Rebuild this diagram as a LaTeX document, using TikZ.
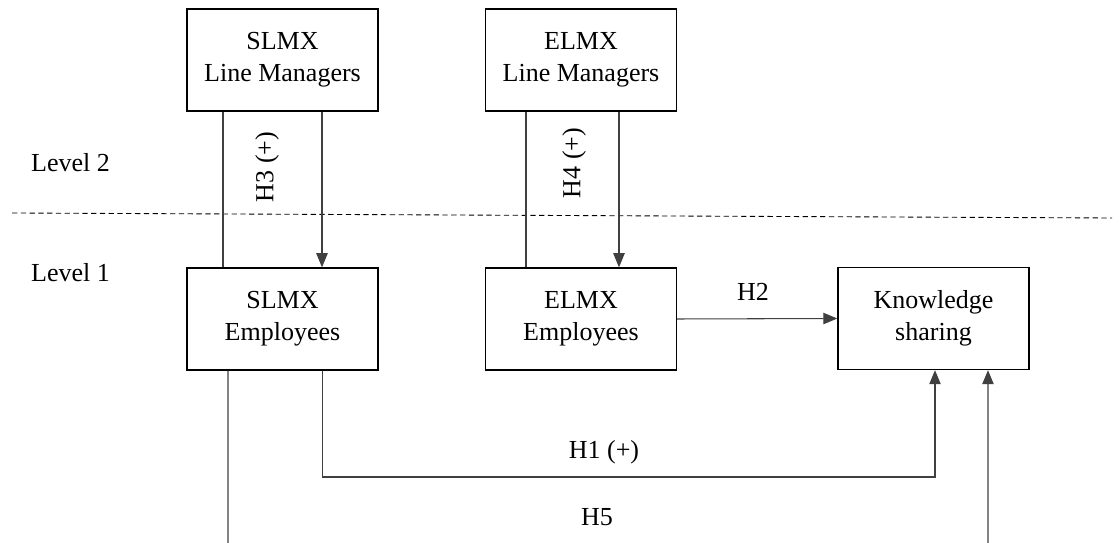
\documentclass[tikz,border=0pt]{standalone}
\usepackage{fontspec}
\setmainfont{Liberation Serif}
\usepackage{tikz}
\usetikzlibrary{calc,arrows.meta,positioning}

\begin{document}
\begin{tikzpicture}[x=0.02cm,y=-0.02cm,
    every node/.style={font=\fontsize{14.8pt}{18pt}\selectfont},
    box/.style={draw,line width=0.8pt,minimum width=3.82cm,minimum height=2.04cm,
        inner sep=0pt,align=center},
    link/.style={draw=black!75,line width=0.6pt},
    arr/.style={link,-{Triangle[length=8pt,width=6.5pt]}}]
\useasboundingbox (0,0) rectangle (1120,543);
    % boxes
    \node[box] (slm) at (282.5,60) {SLMX\\Line Managers};
    \node[box] (elm) at (581,60) {ELMX\\Line Managers};
    \node[box] (sle) at (282.5,319) {SLMX\\Employees};
    \node[box] (ele) at (581,319) {ELMX\\Employees};
    \node[box] (ks) at (933.5,318.5) {Knowledge\\sharing};
    % levels
    \node[anchor=west] (lv2) at (25,163) {Level 2};
    \node[anchor=west] (lv1) at (25,273) {Level 1};
    \coordinate (sepL) at (12,213);
    \coordinate (sepR) at (1112,218);
    \draw[line width=0.5pt,dash pattern=on 3pt off 2pt] (sepL) -- (sepR);
    % cross-level links
    \draw[link] ([xshift=-1.19cm]slm.south) -- ([xshift=-1.19cm]sle.north);
    \draw[arr] ([xshift=0.79cm]slm.south) -- ([xshift=0.79cm]sle.north);
    \draw[link] ([xshift=-1.1cm]elm.south) -- ([xshift=-1.1cm]ele.north);
    \draw[arr] ([xshift=0.76cm]elm.south) -- ([xshift=0.76cm]ele.north);
    \node[rotate=90] (h3) at (267,167) {H3 (+)};
    \node[rotate=90] (h4) at (574,163) {H4 (+)};
    % level 1 links
    \draw[arr] (ele.east) -- (ks.west);
    \node (h2) at (753,292) {H2};
    \coordinate (h1c) at (600,477);
    \draw[arr] ([xshift=0.8cm]sle.south) |- (h1c) -| ([xshift=0.03cm]ks.south);
    \node (h1) at (604,452) {H1 (+)};
    \coordinate (h5a) at (228,543);
    \coordinate (h5b) at (988,543);
    \draw[link] ([xshift=-1.09cm]sle.south) -- (h5a);
    \draw[arr] (h5b) -- ([xshift=1.09cm]ks.south);
    \node (h5) at (597,517) {H5};
\end{tikzpicture}
\end{document}
